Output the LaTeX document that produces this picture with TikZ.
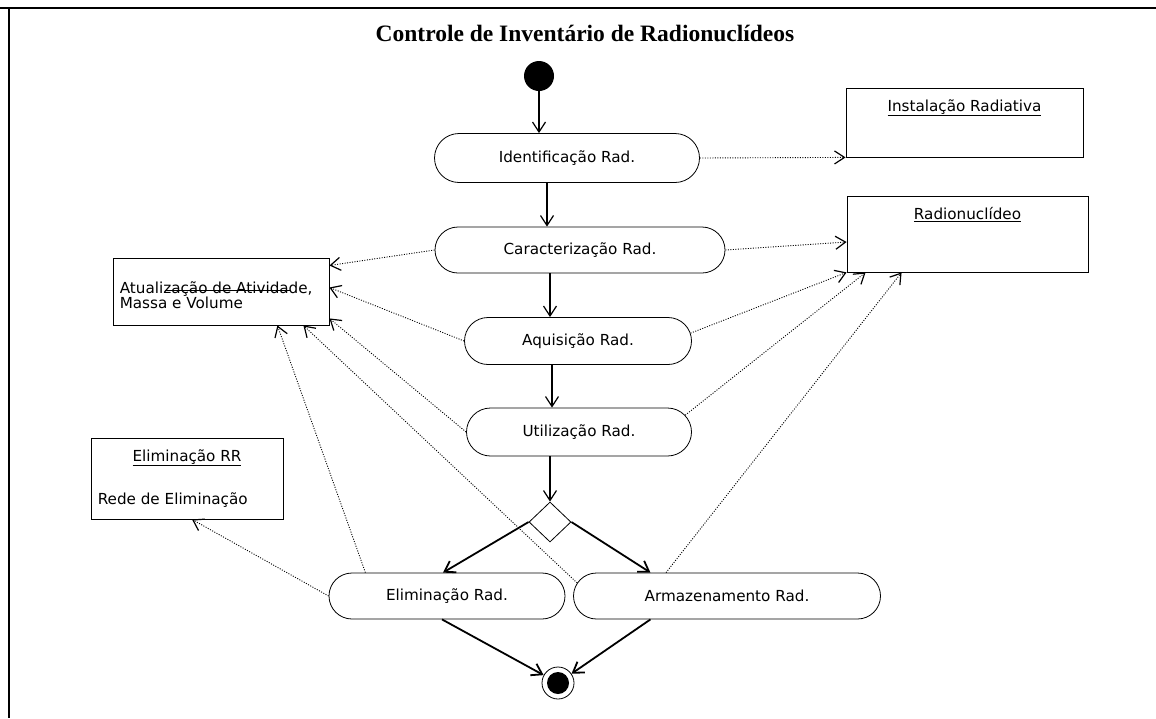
\documentclass[tikz,border=0pt]{standalone}
\usepackage{fontspec}
\setmainfont{DejaVu Sans}
\newfontfamily\titlefont{Liberation Serif}
\usetikzlibrary{arrows.meta,shapes.geometric,shapes.misc,positioning}

\tikzset{
  act/.style={draw, rounded rectangle, inner sep=0pt, line width=0.8pt, font=\fontsize{15.2}{15}\selectfont},
  objbox/.style={draw, rectangle, inner sep=0pt, line width=0.8pt},
  txt/.style={inner sep=0pt, font=\fontsize{15.2}{15}\selectfont},
  flow/.style={-{Straight Barb[length=10pt,width=13pt]}, line width=1.2pt},
  bigflow/.style={flow, line width=1.8pt},
  dep/.style={-{Straight Barb[length=10pt,width=13pt,line width=1.2pt]}, line width=0.9pt, dash pattern=on 1pt off 1.5pt},
}

\begin{document}
\begin{tikzpicture}[x=1pt,y=-1pt]
			%%%%% START %%%%%
			\useasboundingbox (0,0) rectangle (1156,718);
			
			\draw[line width=1.5pt] (0,8) -- (1156,8);
			\draw[line width=1.5pt] (9,8) -- (9,718);
			
			\node[inner sep=0pt, font=\titlefont\bfseries\fontsize{23.5}{24}\selectfont] (title) at (585,33) {Controle de Inventário de Radionuclídeos};
			
			\node[circle, fill, minimum size=30pt, inner sep=0pt] (start) at (539,76) {};
			
			\node[act, minimum width=265pt, minimum height=49pt] (ident) at (567,158) {Identificação Rad.};
			\node[act, minimum width=290pt, minimum height=46pt] (caract) at (580,250) {Caracterização Rad.};
			\node[act, minimum width=227pt, minimum height=47pt] (aquis) at (578,341) {Aquisição Rad.};
			\node[act, minimum width=225pt, minimum height=48pt] (utiliz) at (579,432) {Utilização Rad.};
			\node[diamond, draw, minimum width=42pt, minimum height=40pt, inner sep=0pt, line width=0.8pt] (dec) at (550,522) {};
			\node[act, minimum width=236pt, minimum height=46pt] (elim) at (447,596) {Eliminação Rad.};
			\node[act, minimum width=307pt, minimum height=46pt] (armaz) at (727,596) {Armazenamento Rad.};
			
			\node[circle, draw, minimum size=32pt, inner sep=0pt, line width=0.8pt] (final) at (558,683) {};
			\node[circle, fill, minimum size=22pt, inner sep=0pt] (finaldot) at (final) {};
			
			% objetos
			\node[objbox, minimum width=237pt, minimum height=69pt] (inst) at (964.5,122.5) {};
			\node[txt] (insttitle) at ([yshift=-20pt]inst.north) {\underline{Instalação Radiativa}};
			
			\node[objbox, minimum width=241pt, minimum height=76pt] (radio) at (967.5,234) {};
			\node[txt] (radiotitle) at ([yshift=-19pt]radio.north) {\underline{Radionuclídeo}};
			
			\node[objbox, minimum width=216pt, minimum height=67pt] (atual) at (221,291.5) {};
			\node[txt, align=left, anchor=west] (atualtitle) at ([xshift=7pt,yshift=-4pt]atual.west) {Atualização de Atividade,\\Massa e Volume};
			\draw[line width=0.6pt] ([xshift=52pt,yshift=1pt]atual.west) -- ([xshift=177pt,yshift=1pt]atual.west);
			
			\node[objbox, minimum width=192pt, minimum height=81pt] (elimrr) at (187,478.5) {};
			\node[txt] (elimrrtitle) at ([yshift=-20pt]elimrr.north) {\underline{Eliminação RR}};
			\node[txt, anchor=west] (elimrrrede) at ([xshift=7pt,yshift=-21.5pt]elimrr.west) {Rede de Eliminação};
			
			% fluxo
			\draw[flow] (start) -- (ident.north -| start);
			\draw[flow] ([xshift=-20pt]ident.south) -- ([xshift=-33pt]caract.north);
			\draw[flow] ([xshift=-30pt]caract.south) -- ([xshift=-28pt]aquis.north);
			\draw[flow] ([xshift=-26pt]aquis.south) -- ([xshift=-27pt]utiliz.north);
			\draw[flow] ([xshift=-29pt]utiliz.south) -- (dec.north);
			\draw[bigflow] (dec.west) -- ([xshift=-4pt]elim.north);
			\draw[bigflow] (dec.east) -- (armaz.163);
			\draw[bigflow] ([xshift=-5pt]elim.south) -- (final);
			\draw[bigflow] (armaz.197) -- (final);
			
			% dependencias
			\draw[dep] (ident.east) -- (inst.south west);
			\draw[dep] (caract.east) -- ([yshift=-8pt]radio.west);
			\draw[dep] (aquis.4) -- (radio.south west);
			\draw[dep] (utiliz.9) -- ([xshift=19pt]radio.south west);
			\draw[dep] (armaz.159) -- ([xshift=55pt]radio.south west);
			\draw[dep] (caract.west) -- ([yshift=26pt]atual.east);
			\draw[dep] (aquis.west) -- ([yshift=4pt]atual.east);
			\draw[dep] (utiliz.west) -- ([yshift=7pt]atual.south east);
			\draw[dep] (armaz.175) -- ([xshift=-26pt]atual.south east);
			\draw[dep] (elim.164) -- ([xshift=-52pt]atual.south east);
			\draw[dep] (elim.west) -- ([xshift=5pt]elimrr.south);
			
			%%%%% END %%%%%
\end{tikzpicture}
\end{document}
